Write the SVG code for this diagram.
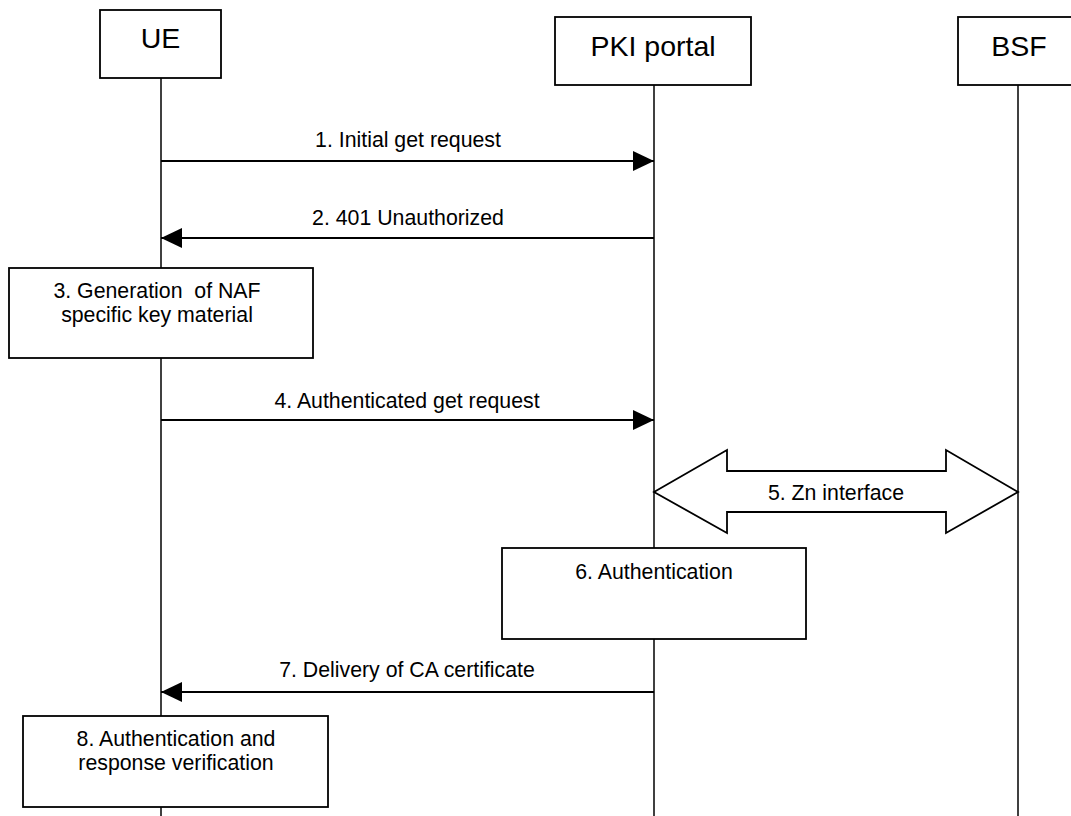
<svg xmlns="http://www.w3.org/2000/svg" width="1071" height="816" viewBox="0 0 1071 816">
<style>
  .box { fill: #fff; stroke: #000; stroke-width: 1.8; }
  .life { stroke: #000; stroke-width: 1.5; fill: none; }
  .msg { stroke: #000; stroke-width: 1.8; fill: none; }
  .hdr { font-family: "Liberation Sans", Arial, sans-serif; font-size: 28.5px; text-anchor: middle; fill: #000; }
  .lbl { font-family: "Liberation Sans", Arial, sans-serif; font-size: 21.3px; text-anchor: middle; fill: #000; }
</style>
<defs>
  <marker id="ah" markerWidth="21" markerHeight="20" refX="21" refY="10" orient="auto" markerUnits="userSpaceOnUse">
    <path d="M0,0 L21,10 L0,20 Z" fill="#000"/>
  </marker>
</defs>
<rect width="1071" height="816" fill="#fff"/>
<g id="lifelines">
  <line class="life" x1="161" y1="78" x2="161" y2="816"/>
  <line class="life" x1="654" y1="85" x2="654" y2="816"/>
  <line class="life" x1="1018" y1="85" x2="1018" y2="816"/>
</g>
<g id="ue">
  <rect class="box" x="100" y="10" width="121" height="68"/>
  <text class="hdr" x="160.5" y="48">UE</text>
</g>
<g id="pki">
  <rect class="box" x="555" y="17" width="196" height="68"/>
  <text class="hdr" x="653" y="56">PKI portal</text>
</g>
<g id="bsf">
  <rect class="box" x="958" y="17" width="122" height="68"/>
  <text class="hdr" x="1019" y="56">BSF</text>
</g>
<g id="connectors">
  <line class="msg" x1="161" y1="161" x2="654" y2="161" marker-end="url(#ah)"/>
  <line class="msg" x1="654" y1="238" x2="161" y2="238" marker-end="url(#ah)"/>
  <line class="msg" x1="161" y1="420" x2="654" y2="420" marker-end="url(#ah)"/>
  <polygon class="box" points="654,492 727,450 727,471 946,471 946,450 1018,492 946,533 946,512 727,512 727,533"/>
  <line class="msg" x1="654" y1="692" x2="161" y2="692" marker-end="url(#ah)"/>
</g>
<g id="labels">
  <text class="lbl" x="408" y="147">1. Initial get request</text>
  <text class="lbl" x="408" y="225">2. 401 Unauthorized</text>
  <text class="lbl" x="407" y="408">4. Authenticated get request</text>
  <text class="lbl" x="836" y="500">5. Zn interface</text>
  <text class="lbl" x="407" y="677">7. Delivery of CA certificate</text>
</g>
<g id="step3">
  <rect class="box" x="9" y="268" width="304" height="90"/>
  <text class="lbl" x="157" y="298" xml:space="preserve">3. Generation  of NAF</text>
  <text class="lbl" x="157" y="322">specific key material</text>
</g>
<g id="step6">
  <rect class="box" x="502" y="548" width="304" height="91"/>
  <text class="lbl" x="654" y="579">6. Authentication</text>
</g>
<g id="step8">
  <rect class="box" x="23" y="716" width="305" height="91"/>
  <text class="lbl" x="176" y="746">8. Authentication and</text>
  <text class="lbl" x="176" y="770">response verification</text>
</g>
</svg>
